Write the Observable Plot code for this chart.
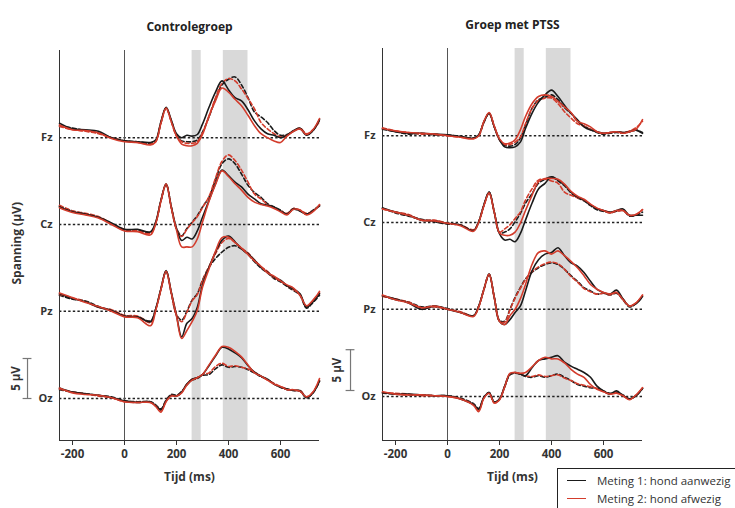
<!DOCTYPE html>
<html><head><meta charset="utf-8">
<script src="https://cdn.jsdelivr.net/npm/d3@7"></script>
<script src="https://cdn.jsdelivr.net/npm/@observablehq/plot@0.6"></script>
<style>
body{margin:0;background:#fff;}
#wrap{position:relative;width:735px;height:508px;overflow:hidden;font-family:"Open Sans",sans-serif;background:#fff;}
#left,#right{position:absolute;top:0;}
#left{left:0px}
#right{left:320px}
svg{overflow:visible}
#legend{position:absolute;left:557px;top:468px;width:200px;height:48px;border:1px solid #222;background:#fff;box-sizing:border-box;}
.item{position:absolute;left:0;height:14px;font-size:11.5px;color:#333;line-height:14px;white-space:nowrap;}
.item .sw{position:absolute;left:9px;top:6px;width:19px;height:0;border-top:1.8px solid #111;}
.item .lb{position:absolute;left:39px;top:0;}
</style></head>
<body>
<div id="wrap">
  <div id="left"></div>
  <div id="right"></div>
  <div id="legend">
    <div class="item" style="top:5px"><span class="sw" style="border-color:#1a1a1a"></span><span class="lb" id="lg1"></span></div>
    <div class="item" style="top:23px"><span class="sw" style="border-color:#d33c2c"></span><span class="lb" id="lg2"></span></div>
  </div>
</div>
<script>
// ---- data ----
const times = [-250,-200,-150,-100,-50,0,50,100,120,140,160,180,200,220,240,260,280,300,325,350,375,400,425,450,475,500,525,550,575,600,625,650,675,700,725,750];
const channels = ["Fz","Cz","Pz","Oz"];
const offsets = [32.6, 21.75, 10.9, 0];
const groups = ["Controlegroep","Groep met PTSS"];
const legendLabels = ["Meting 1: hond aanwezig","Meting 2: hond afwezig"];
const bandStarts = [260, 380];
const bandEnds = [295, 475];
const xTicks = [-200, 0, 200, 400, 600];

// Controlegroep
const ctrlFz_m1  = [1.8,1.1,1.0,0.8,0.0,-0.4,-0.5,-0.6,-0.3,2.0,3.8,2.2,0.5,0.0,0.3,0.2,0.4,1.7,3.8,5.7,7.1,6.0,5.0,4.6,3.5,2.1,1.1,0.5,0.3,0.0,0.3,0.9,1.2,0.3,0.9,2.3];
const ctrlFz_m2  = [1.6,1.0,0.9,0.6,-0.1,-0.5,-0.6,-0.9,-0.5,1.8,3.7,2.0,0.2,-0.8,-1.0,-1.0,-0.7,0.4,2.7,4.6,6.2,5.7,4.8,4.0,2.8,1.5,0.5,0.0,-0.4,-0.6,0.2,0.8,1.1,0.4,1.0,2.4];
const ctrlFz_m1d = [1.5,1.2,0.9,0.6,0.0,-0.4,-0.5,-0.7,-0.4,1.9,3.7,2.1,0.3,-0.4,-0.5,-0.5,-0.3,0.7,2.6,4.8,6.6,7.3,7.6,6.6,5.0,3.2,2.6,1.9,0.9,0.3,0.4,0.8,1.1,0.4,0.9,2.2];
const ctrlFz_m2d = [1.4,1.0,0.8,0.5,0.0,-0.4,-0.6,-0.8,-0.5,1.8,3.7,2.0,0.2,-0.5,-0.7,-0.7,-0.5,0.6,2.7,5.0,6.8,7.4,7.1,6.1,4.9,3.6,1.9,1.1,0.5,0.1,0.3,0.8,1.2,0.5,1.0,2.0];

const ctrlCz_m1  = [2.2,1.6,1.3,0.9,0.2,-0.6,-0.6,-0.9,0.3,3.0,5.1,2.2,-0.5,-2.0,-1.6,-1.8,-0.8,0.9,3.0,5.1,6.8,6.1,5.3,4.7,3.8,3.2,2.6,2.4,2.2,1.7,1.3,2.0,1.7,1.3,1.7,2.4];
const ctrlCz_m2  = [2.1,1.5,1.2,0.8,0.0,-0.8,-0.9,-1.3,0.1,2.9,5.1,2.1,-0.7,-2.8,-2.8,-2.8,-1.8,0.3,2.9,5.0,6.7,6.0,5.1,4.3,3.4,2.8,2.5,2.3,2.0,1.6,1.2,1.9,1.8,1.2,1.6,2.5];
const ctrlCz_m1d = [2.3,1.7,1.3,0.9,0.1,-0.7,-0.7,-1.0,0.2,3.0,5.0,2.2,-0.5,-1.4,-0.5,0.3,1.1,2.2,3.4,5.6,7.6,8.2,7.6,6.3,4.9,4.0,3.4,2.6,2.2,1.8,1.3,1.9,1.7,1.3,1.8,2.3];
const ctrlCz_m2d = [2.4,1.7,1.4,1.0,0.1,-0.6,-0.8,-1.1,0.2,2.9,5.0,2.1,-0.6,-1.5,-0.6,0.2,1.0,2.1,3.5,5.8,7.9,8.7,8.0,6.8,5.3,3.8,3.2,2.5,2.1,1.7,1.4,2.0,1.8,1.4,1.7,2.4];

const ctrlPz_m1  = [2.2,1.6,1.2,0.5,0.1,-0.6,-0.7,-1.3,0.3,2.8,5.1,2.4,-0.5,-3.2,-1.5,-0.9,0.5,3.3,5.5,7.4,8.9,9.4,8.7,7.8,7.2,6.4,5.5,4.9,4.3,3.9,3.2,2.8,2.2,0.5,1.2,2.2];
const ctrlPz_m2  = [2.3,1.7,1.1,0.6,0.0,-0.7,-0.8,-1.8,0.1,2.7,5.0,2.3,-0.6,-3.4,-2.4,-1.3,0.1,3.0,5.3,7.5,9.2,9.3,8.6,7.9,7.1,6.3,5.6,4.8,4.4,3.8,3.3,2.9,2.0,0.7,1.4,2.5];
const ctrlPz_m1d = [2.0,1.5,1.3,0.6,0.1,-0.6,-0.7,-1.2,0.3,2.8,5.0,2.3,-0.4,-1.1,0.0,1.4,2.2,3.9,5.5,6.6,7.4,8.0,8.2,7.8,7.1,6.2,5.4,4.8,4.1,3.7,3.1,2.6,2.0,0.4,1.1,2.0];
const ctrlPz_m2d = [2.1,1.7,1.2,0.5,0.2,-0.5,-0.6,-1.4,0.2,2.7,5.0,2.2,-0.5,-1.3,-0.1,1.3,2.1,3.8,5.6,7.2,8.6,9.1,8.6,7.9,7.3,6.4,5.6,5.0,4.2,3.8,3.2,2.7,2.1,0.6,1.3,2.3];

const ctrlOz_m1  = [1.3,0.8,0.6,0.4,0.1,-0.3,-0.5,-0.4,-0.9,-1.4,-0.3,0.4,0.3,0.8,1.8,2.4,2.6,3.0,4.1,5.3,6.4,6.2,5.7,5.1,4.1,3.3,2.8,2.4,1.8,1.4,1.2,1.0,1.0,0.1,0.7,2.2];
const ctrlOz_m2  = [1.3,0.7,0.5,0.4,0.1,-0.4,-0.5,-0.5,-1.0,-1.7,-0.4,0.3,0.3,0.7,1.7,2.3,2.6,3.0,4.2,5.4,6.5,6.4,5.9,5.2,4.2,3.2,2.8,2.3,1.8,1.5,1.1,1.1,0.9,0.2,0.8,2.5];
const ctrlOz_m1d = [1.1,0.8,0.6,0.4,0.2,-0.3,-0.4,-0.4,-0.8,-1.3,-0.2,0.5,0.4,0.9,1.7,2.3,2.5,2.9,3.0,3.7,4.2,3.9,4.0,3.9,3.6,3.2,2.7,2.4,1.8,1.4,1.1,1.0,0.9,0.1,0.7,2.1];
const ctrlOz_m2d = [1.2,0.8,0.6,0.3,0.1,-0.4,-0.5,-0.5,-0.9,-1.5,-0.3,0.4,0.3,0.8,1.8,2.4,2.6,3.0,3.2,4.0,4.4,4.0,4.1,3.9,3.7,3.3,2.8,2.3,1.9,1.5,1.2,1.0,1.0,0.2,0.8,2.3];

// Groep met PTSS
const ptssFz_m1  = [0.9,0.5,0.3,0.3,0.2,0.1,-0.1,-0.3,0.1,1.7,2.8,1.1,-0.5,-1.4,-1.5,-1.4,-0.8,0.9,2.8,4.2,5.1,5.7,4.9,3.8,2.8,2.0,1.1,0.7,0.5,0.3,0.4,0.5,0.4,0.5,0.7,0.3];
const ptssFz_m2  = [0.9,0.6,0.4,0.3,0.2,0.0,-0.2,-0.4,0.0,1.8,2.9,1.2,-0.4,-1.0,-0.9,-0.5,0.7,2.4,4.0,4.9,5.1,4.9,4.3,3.6,2.9,1.8,1.5,1.1,0.5,0.3,0.4,0.5,0.3,0.5,0.8,2.0];
const ptssFz_m1d = [0.8,0.5,0.2,0.3,0.1,0.1,-0.1,-0.3,0.1,1.7,2.8,1.1,-0.5,-1.2,-1.3,-1.1,-0.3,1.3,3.4,4.5,4.8,5.1,4.5,3.5,2.8,1.8,1.2,0.8,0.4,0.2,0.3,0.4,0.3,0.5,0.7,0.4];
const ptssFz_m2d = [1.0,0.6,0.4,0.2,0.2,0.0,-0.2,-0.3,0.0,1.7,2.8,1.1,-0.5,-1.1,-1.1,-0.8,-0.2,1.5,3.4,4.4,4.7,4.7,4.0,3.0,2.2,1.5,1.2,0.8,0.5,0.3,0.4,0.5,0.4,0.6,1.0,1.8];

const ptssCz_m1  = [1.8,1.3,0.9,0.3,0.2,-0.1,-0.3,-1.0,0.1,2.2,3.8,1.3,-1.4,-2.2,-2.1,-2.4,-1.4,0.3,2.4,4.2,4.9,5.7,5.3,4.7,3.8,3.2,2.8,2.2,1.7,1.5,1.3,1.5,1.7,0.9,0.9,0.9];
const ptssCz_m2  = [1.7,1.3,0.9,0.3,0.2,-0.1,-0.4,-1.1,0.0,2.1,3.7,1.3,-1.3,-1.6,-1.6,-1.2,-0.1,1.5,3.4,5.1,5.5,5.5,5.4,4.8,3.9,3.3,2.9,2.3,1.8,1.5,1.2,1.5,1.5,0.9,1.0,1.6];
const ptssCz_m1d = [1.8,1.2,0.8,0.4,0.1,-0.2,-0.3,-1.0,0.1,2.2,3.8,1.3,-1.3,-1.2,-0.8,0.1,1.1,2.4,3.6,4.9,5.4,5.7,5.2,4.6,3.7,3.1,2.7,2.1,1.6,1.4,1.2,1.4,1.5,0.8,0.9,1.3];
const ptssCz_m2d = [1.7,1.3,1.0,0.3,0.3,-0.1,-0.3,-0.9,0.1,2.1,3.7,1.2,-1.2,-0.8,-0.3,0.5,1.3,2.8,4.2,5.3,5.4,5.2,4.9,3.8,3.4,3.1,2.8,2.2,1.8,1.5,1.3,1.4,1.5,0.9,1.0,1.6];

const ptssPz_m1  = [1.7,1.3,0.8,0.0,0.4,0.0,-0.4,-0.8,0.4,2.5,4.4,1.5,-1.5,-1.9,-1.3,-0.4,0.4,2.3,4.8,6.2,6.9,7.1,7.7,6.7,5.8,5.4,4.6,3.5,2.5,2.1,1.9,2.4,1.3,0.4,0.7,1.6];
const ptssPz_m2  = [1.8,1.2,0.8,0.2,0.4,0.0,-0.4,-0.9,0.3,2.5,4.4,1.5,-1.5,-1.9,-0.8,0.0,1.3,3.1,5.6,7.1,7.3,6.9,7.3,6.7,6.0,5.2,4.2,3.1,2.5,2.1,1.9,2.1,1.2,0.4,0.8,1.8];
const ptssPz_m1d = [1.7,1.2,0.9,0.3,0.4,0.1,-0.4,-0.8,0.4,2.5,4.4,1.5,-1.4,-1.5,0.0,1.5,2.7,3.8,4.6,5.2,5.6,5.8,5.6,5.0,4.2,3.5,2.7,2.3,1.9,2.0,1.8,2.0,1.2,0.3,0.7,1.6];
const ptssPz_m2d = [1.6,1.3,0.9,0.2,0.3,0.0,-0.3,-0.8,0.3,2.4,4.3,1.4,-1.5,-1.6,-0.1,1.4,2.6,3.7,4.7,5.3,5.7,5.9,5.7,5.0,4.1,3.4,2.6,2.2,1.9,2.0,1.8,2.1,1.3,0.4,0.8,1.7];

const ptssOz_m1  = [0.5,0.3,0.3,0.2,0.1,0.1,-0.3,-1.0,-1.6,-0.1,0.5,-0.7,-0.3,1.3,2.8,3.0,2.8,2.6,3.6,4.5,4.7,4.9,5.1,4.3,3.8,3.4,3.0,2.4,1.3,0.7,0.3,0.7,0.1,-0.3,0.1,1.0];
const ptssOz_m2  = [0.6,0.3,0.2,0.2,0.1,0.0,-0.3,-1.1,-1.9,-0.2,0.4,-0.8,-0.4,1.2,2.9,3.0,2.9,3.0,3.7,4.5,4.9,4.7,4.7,4.2,3.4,2.8,2.4,1.5,0.9,0.6,0.3,0.4,0.1,-0.4,0.2,1.1];
const ptssOz_m1d = [0.4,0.3,0.2,0.2,0.1,0.1,-0.2,-0.9,-1.5,-0.1,0.5,-0.7,-0.3,1.2,2.7,2.9,2.8,2.5,2.4,2.6,2.4,2.6,2.8,2.4,2.0,1.5,1.3,1.1,1.0,0.7,0.4,0.5,0.2,-0.3,0.1,1.0];
const ptssOz_m2d = [0.5,0.4,0.3,0.1,0.1,0.0,-0.3,-1.0,-1.7,-0.2,0.4,-0.8,-0.4,1.3,2.8,3.0,2.8,2.6,2.5,2.7,2.5,2.6,2.7,2.3,2.0,1.6,1.4,1.2,1.0,0.6,0.3,0.5,0.1,-0.3,0.1,1.1];

// ---- build ----
const styles = [
  {key:"m1d", stroke:"#1a1a1a", dash:"4,2.5"},
  {key:"m2d", stroke:"#d33c2c", dash:"4,2.5"},
  {key:"m1",  stroke:"#1a1a1a", dash:null},
  {key:"m2",  stroke:"#d33c2c", dash:null}
];
const ctrlSeries = {
  Fz:{m1:ctrlFz_m1,m2:ctrlFz_m2,m1d:ctrlFz_m1d,m2d:ctrlFz_m2d},
  Cz:{m1:ctrlCz_m1,m2:ctrlCz_m2,m1d:ctrlCz_m1d,m2d:ctrlCz_m2d},
  Pz:{m1:ctrlPz_m1,m2:ctrlPz_m2,m1d:ctrlPz_m1d,m2d:ctrlPz_m2d},
  Oz:{m1:ctrlOz_m1,m2:ctrlOz_m2,m1d:ctrlOz_m1d,m2d:ctrlOz_m2d}
};
const ptssSeries = {
  Fz:{m1:ptssFz_m1,m2:ptssFz_m2,m1d:ptssFz_m1d,m2d:ptssFz_m2d},
  Cz:{m1:ptssCz_m1,m2:ptssCz_m2,m1d:ptssCz_m1d,m2d:ptssCz_m2d},
  Pz:{m1:ptssPz_m1,m2:ptssPz_m2,m1d:ptssPz_m1d,m2d:ptssPz_m2d},
  Oz:{m1:ptssOz_m1,m2:ptssOz_m2,m1d:ptssOz_m1d,m2d:ptssOz_m2d}
};
const bands = bandStarts.map((a,i)=>({a, b:bandEnds[i]}));

function panel(cfg){
  const rows = [];
  channels.forEach((ch,ci)=>{
    styles.forEach(s=>{
      cfg.series[ch][s.key].forEach((v,i)=>rows.push({t:times[i], v:v+offsets[ci], ch, key:s.key}));
    });
  });
  const ydom = cfg.ydom;
  const lineMarks = styles.map(s=>Plot.line(rows.filter(d=>d.key===s.key), {
    x:"t", y:"v", z:"ch", stroke:s.stroke, strokeWidth:1.6,
    strokeDasharray:s.dash || undefined, curve:"catmull-rom"
  }));
  const marks = [
    Plot.rect(bands, {x1:"a", x2:"b", y1:()=>ydom[0], y2:()=>ydom[1], fill:"#d9d9d9"}),
    Plot.ruleY(offsets, {x1:-250, x2:750, stroke:"#222", strokeWidth:1.5, strokeDasharray:"2.4,2.2"}),
    Plot.ruleX([0], {y1:ydom[0], y2:ydom[1], stroke:"#555", strokeWidth:1}),
    Plot.ruleX([-250], {y1:ydom[0], y2:ydom[1], stroke:"#333", strokeWidth:1}),
    Plot.ruleY([ydom[0]], {stroke:"#333", strokeWidth:1}),
    ...lineMarks,
    Plot.axisX({ticks:xTicks, tickSize:5, tickPadding:4, label:null, tickFormat:d=>String(d), fontSize:11.5, fontWeight:"bold", stroke:"#333", fill:"#333"}),
    Plot.text(channels, {x:-250, y:(d,i)=>offsets[i], text:d=>d, dx:-7, textAnchor:"end", fontSize:11, fontWeight:"bold", fill:"#333"}),
    Plot.text([cfg.title], {frameAnchor:"top", dy:-28, fontSize:12, fontWeight:"bold", fill:"#222"}),
    Plot.text(["Tijd (ms)"], {frameAnchor:"bottom", dy:40, fontSize:12, fontWeight:"bold", fill:"#333"}),
    // 5 µV scale bar
    Plot.ruleX([-373], {y1:cfg.bar[0], y2:cfg.bar[1], stroke:"#777", strokeWidth:1.2}),
    Plot.ruleY(cfg.bar, {x1:-390, x2:-356, stroke:"#777", strokeWidth:1.2}),
    Plot.text(["5 \u00b5V"], {x:cfg.barLabelX, y:(cfg.bar[0]+cfg.bar[1])/2, rotate:-90, fontSize:11.5, fontWeight:"bold", fill:"#333"})
  ];
  if (cfg.ylabel) marks.push(Plot.text([cfg.ylabel], {x:-412, y:19.4, rotate:-90, fontSize:12, fontWeight:"bold", fill:"#333"}));
  return Plot.plot({
    width:cfg.width, height:508,
    marginLeft:cfg.ml, marginRight:cfg.mr, marginTop:cfg.mt, marginBottom:68,
    x:{domain:[-250,750]},
    y:{domain:ydom, axis:null},
    style:{fontFamily:"'Open Sans', sans-serif", background:"transparent", overflow:"visible"},
    marks
  });
}

document.getElementById("left").append(panel({
  title:groups[0], series:ctrlSeries, width:340, ml:59, mr:21, mt:50,
  ydom:[-5.25,43.5], bar:[0,5], barLabelX:-415, ylabel:"Spanning (\u00b5V)"
}));
document.getElementById("right").append(panel({
  title:groups[1], series:ptssSeries, width:415, ml:62, mr:93, mt:48,
  ydom:[-5.5,43.5], bar:[0.75,5.85], barLabelX:-423, ylabel:null
}));
document.getElementById("lg1").textContent = legendLabels[0];
document.getElementById("lg2").textContent = legendLabels[1];
</script>
</body></html>
